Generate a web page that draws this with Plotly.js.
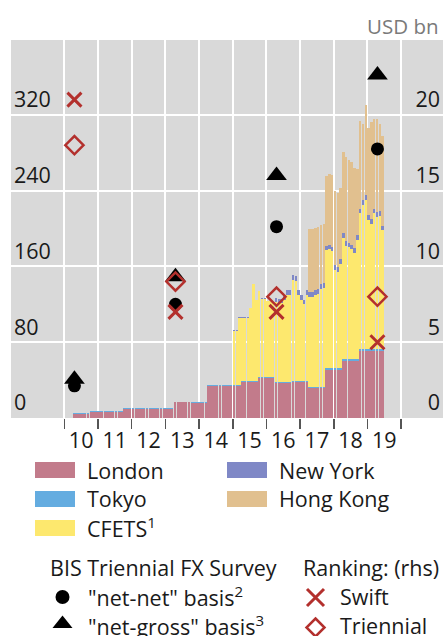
<!DOCTYPE html>
<html>
<head>
<meta charset="utf-8">
<script src="https://cdn.plot.ly/plotly-3.0.1.min.js"></script>
<style>html,body{margin:0;padding:0;background:#fff;}#chart{width:443px;height:636px;}</style>
</head>
<body>
<div id="chart"></div>
<script>
// ---- DATA (USD bn, monthly; London & Tokyo from Apr 2010) ----
const london = [
  4.5,4.5,4.5,4.5,4.5,4.5,6.7,6.7,6.7,                 // 2010 Apr-Dec
  6.7,6.7,6.7,6.7,6.7,6.7,6.7,6.7,6.7,9.7,9.7,9.7,     // 2011
  9.7,9.7,9.7,9.7,9.7,9.7,9.7,9.7,9.7,9.7,9.7,9.7,     // 2012
  9.7,9.7,9.7,17,17,17,17,17,17,16.3,16.3,16.3,        // 2013
  16.3,16.3,16.3,33.5,33.5,33.5,33.5,33.5,33.5,33.5,33.5,33.5, // 2014
  33.5,33.5,33.5,37.5,37.5,37.5,37.5,37.5,37.5,42,42,42,       // 2015
  42,42,42,37,37,37,37,37,37,38,38,38,                 // 2016
  38,38,38,31.5,31.5,31.5,31.5,31.5,31.5,51,51,51,     // 2017
  51,51,51,60.5,60.5,60.5,60.5,60.5,60.5,71,71,71,     // 2018
  71,71,71,71,71,71                                    // 2019 Jan-Jun
];
const tokyo = [
  0.4,0.4,0.4,0.4,0.4,0.4,0.4,0.4,0.4,
  0.4,0.4,0.4,0.4,0.4,0.4,0.4,0.4,0.4,0.4,0.4,0.4,
  0.4,0.4,0.4,0.4,0.4,0.4,0.4,0.4,0.4,0.4,0.4,0.4,
  0.4,0.4,0.4,0.4,0.4,0.4,0.4,0.4,0.4,0.4,0.4,0.4,
  0.4,0.4,0.4,1.5,1.5,1.5,1.5,1.5,1.5,1.5,1.5,1.5,
  1.5,1.5,1.5,1.5,1.5,1.5,1.5,1.5,1.5,1.5,1.5,1.5,
  1.5,1.5,1.5,1.5,1.5,1.5,1.5,1.5,1.5,1.5,1.5,1.5,
  1.5,1.5,1.5,1.5,1.5,1.5,1.5,1.5,1.5,2,2,2,
  2,2,2,2,2,2,2,2,2,2,2,2,
  2,2,2,2,2,2
];
// CFETS and New York from Jan 2015
const cfets = [
  57,57,71,67,67,67,77,102,85.5,90.5,82.5,82.5,          // 2015
  79.5,79.5,78.5,83.5,82.5,82.5,86.5,91.5,91.5,106.5,105.5,90.5, // 2016
  85.5,80.5,90.5,95,95,97,98,103,104,124,125,123,        // 2017
  103,101,110,127.5,119.5,117.5,115.5,111.5,125.5,143,152,157, // 2018
  136,132,143,139,140,125                                // 2019
];
const newYork = [
  0.5,0.5,0.5,0.5,0.5,0.5,0.5,0.5,0.5,0.5,0.5,0.5,
  0.5,0.5,0.5,5,5,5,5,5,5,5,5,5,
  5,5,5,5,5,5,5,5,5,5,5,5,
  5,5,5,5,5,5,5,5,5,5,5,5,
  5,5,5,5,5,5
];
// Hong Kong from Apr 2017
const hongKong = [
  66,67,66,66,63,63,73,75,76,                 // 2017 Apr-Dec
  79,79,75,86,89,87,87,85,70,93,80,95,        // 2018
  92,102,95,99,92,95                          // 2019
];
// BIS Triennial survey (lhs, USD bn) and rankings (rhs)
const surveyDates   = ['2010-04-20','2013-04-20','2016-04-20','2019-04-20'];
const netNet        = [34, 120, 202, 284];
const netGross      = [41, 149, 256, 362];
const swiftRank     = [21, 7, 7, 5];
const triennialRank = [18, 9, 8, 8];
const yearLabels = ['10','11','12','13','14','15','16','17','18','19'];
const leftTicks  = [0, 80, 160, 240, 320];
const rightTicks = [0, 5, 10, 15, 20];

// ---- helpers ----
function monthSeq(y, m, n) {
  const out = [];
  for (let i = 0; i < n; i++) {
    out.push(y + '-' + String(m).padStart(2, '0') + '-15');
    m++; if (m > 12) { m = 1; y++; }
  }
  return out;
}
const xAll   = monthSeq(2010, 4, london.length);
const xCfets = monthSeq(2015, 1, cfets.length);
const xHK    = monthSeq(2017, 4, hongKong.length);
const yearStarts = [];
const yearMids = [];
for (let i = 0; i <= yearLabels.length; i++) {
  yearStarts.push((2010 + i) + '-01-01');
  if (i < yearLabels.length) yearMids.push((2010 + i) + '-07-02');
}

const FONT = '"Open Sans", "Noto Sans", sans-serif';
const C = {
  london: '#c27b8b', tokyo: '#64ace0', cfets: '#fde86e',
  ny: '#7f88c6', hk: '#e1c08f', red: '#b3302d', black: '#000'
};

const traces = [
  {type:'bar', x:xAll, y:london, marker:{color:C.london, line:{width:0}}, name:'London', hoverinfo:'skip'},
  {type:'bar', x:xAll, y:tokyo, marker:{color:C.tokyo, line:{width:0}}, name:'Tokyo', hoverinfo:'skip'},
  {type:'bar', x:xCfets, y:cfets, marker:{color:C.cfets, line:{width:0}}, name:'CFETS', hoverinfo:'skip'},
  {type:'bar', x:xCfets, y:newYork, marker:{color:C.ny, line:{width:0}}, name:'New York', hoverinfo:'skip'},
  {type:'bar', x:xHK, y:hongKong, marker:{color:C.hk, line:{width:0}}, name:'Hong Kong', hoverinfo:'skip'},
  {type:'scatter', mode:'markers', x:surveyDates, y:netGross,
   marker:{symbol:'triangle-up', size:18, color:C.black}, name:'net-gross'},
  {type:'scatter', mode:'markers', x:surveyDates, y:netNet,
   marker:{symbol:'circle', size:13, color:C.black}, name:'net-net'},
  {type:'scatter', mode:'markers', x:surveyDates, y:triennialRank, xaxis:'x2', yaxis:'y2',
   marker:{symbol:'diamond-open', size:14, color:C.red, line:{width:2.5, color:C.red}}, name:'Triennial'},
  {type:'scatter', mode:'markers', x:surveyDates, y:swiftRank, xaxis:'x2', yaxis:'y2',
   marker:{symbol:'x-thin', size:14, color:C.red, line:{width:3, color:C.red}}, name:'Swift'}
];

// pixel -> paper conversion for legend decorations
const PL = 11, PR = 443, PT = 40, PB = 418;
const px = v => (v - PL) / (PR - PL);
const py = v => (PB - v) / (PB - PT);

const shapes = [];
const annotations = [];
function swatch(x0, x1, y0, y1, color) {
  shapes.push({type:'rect', xref:'paper', yref:'paper', x0:px(x0), x1:px(x1), y0:py(y1), y1:py(y0),
               fillcolor:color, line:{width:0}});
}
function label(text, x, y, opts) {
  annotations.push(Object.assign({text:text, xref:'paper', yref:'paper', x:px(x), y:py(y),
    xanchor:'left', yanchor:'middle', showarrow:false,
    font:{family:FONT, size:21.5, color:'#1a1a1a'}}, opts || {}));
}
swatch(35, 75, 462, 478, C.london);   label('London', 85, 470);
swatch(35, 75, 491, 507, C.tokyo);    label('Tokyo', 85, 499);
swatch(35, 75, 520, 536, C.cfets);    label('CFETS<sup>1</sup>', 85, 527);
swatch(227, 267, 462, 478, C.ny);     label('New York', 277, 470);
swatch(227, 267, 491, 507, C.hk);     label('Hong Kong', 277, 499);
label('BIS Triennial FX Survey', 48, 567);
label('Ranking: (rhs)', 301, 567);
label('"net-net" basis<sup>2</sup>', 86, 596);
label('"net-gross" basis<sup>3</sup>', 86, 625);
label('Swift', 338, 596);
label('Triennial', 338, 625);
// legend keys
shapes.push({type:'circle', xref:'paper', yref:'paper', x0:px(55.5), x1:px(69.5), y0:py(604), y1:py(590),
             fillcolor:'#000', line:{width:0}});
shapes.push({type:'path', xref:'paper', yref:'paper',
  path:'M'+px(52.5)+','+py(628)+' L'+px(72.5)+','+py(628)+' L'+px(62.5)+','+py(615.5)+' Z',
  fillcolor:'#000', line:{width:0}});
shapes.push({type:'path', xref:'paper', yref:'paper',
  path:'M'+px(307)+','+py(589)+' L'+px(324)+','+py(606)+' M'+px(307)+','+py(606)+' L'+px(324)+','+py(589),
  line:{width:3, color:C.red}});
shapes.push({type:'path', xref:'paper', yref:'paper',
  path:'M'+px(315.5)+','+py(618.5)+' L'+px(324.5)+','+py(627.5)+' L'+px(315.5)+','+py(636.5)+' L'+px(306.5)+','+py(627.5)+' Z',
  fillcolor:'rgba(0,0,0,0)', line:{width:2.5, color:C.red}});
// unit label
annotations.push({text:'USD bn', xref:'paper', yref:'paper', x:px(441), y:py(26),
  xanchor:'right', yanchor:'middle', showarrow:false, font:{family:FONT, size:20.5, color:'#7a7a7a'}});

const layout = {
  width:443, height:636,
  margin:{l:11, r:0, t:40, b:218, pad:0},
  paper_bgcolor:'#ffffff', plot_bgcolor:'#d9d9d9',
  barmode:'stack', bargap:0.04,
  showlegend:false,
  font:{family:FONT, size:21.5, color:'#1a1a1a'},
  xaxis:{type:'date', range:['2008-06-01','2021-03-31'], tickmode:'array', tickvals:yearStarts,
         showticklabels:false, ticks:'outside', ticklen:10, tickwidth:1.6, tickcolor:'#555',
         showgrid:true, gridcolor:'#ffffff', gridwidth:2, zeroline:false, showline:false, fixedrange:true},
  xaxis2:{type:'date', matches:'x', overlaying:'x', anchor:'y2', side:'bottom',
          tickmode:'array', tickvals:yearMids, ticktext:yearLabels,
          ticks:'outside', ticklen:3, tickcolor:'rgba(0,0,0,0)', showgrid:false, zeroline:false, showline:false,
          tickfont:{family:FONT, size:21.5, color:'#1a1a1a'}},
  yaxis:{range:[0,399], tickmode:'array', tickvals:leftTicks, ticklabelposition:'inside top',
         showgrid:true, gridcolor:'#ffffff', gridwidth:2, zeroline:false, ticks:'', showline:false,
         tickfont:{family:FONT, size:21.5, color:'#1a1a1a'}},
  yaxis2:{range:[0,399/16], overlaying:'y', side:'right', anchor:'x2', tickmode:'array', tickvals:rightTicks,
          ticklabelposition:'inside top', showgrid:false, zeroline:false, ticks:'', showline:false,
          tickfont:{family:FONT, size:21.5, color:'#1a1a1a'}},
  shapes:shapes,
  annotations:annotations
};

Plotly.newPlot('chart', traces, layout, {staticPlot:true, displayModeBar:false});
</script>
</body>
</html>
